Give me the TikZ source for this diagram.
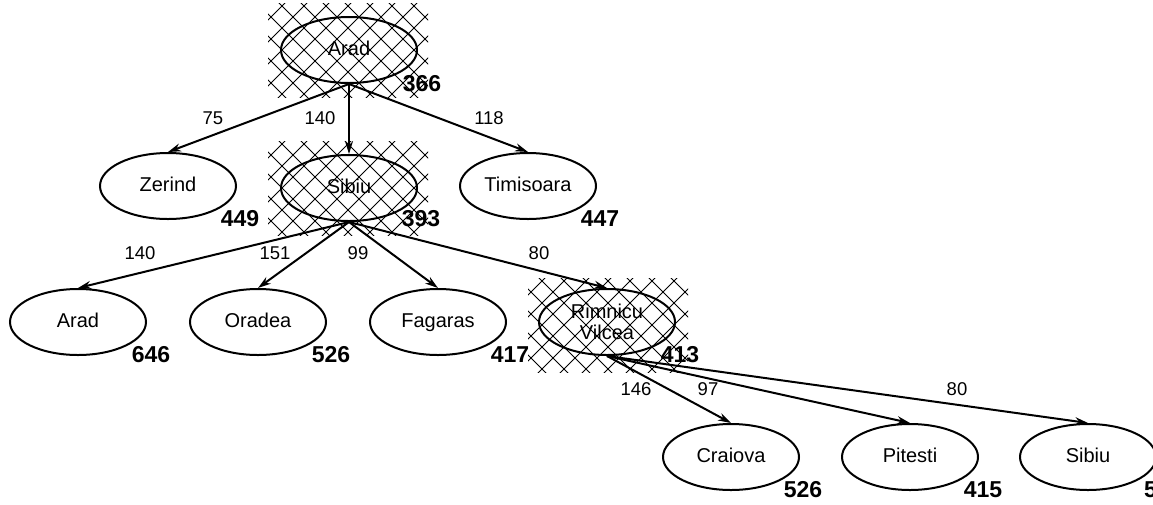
\documentclass[tikz,border=0pt]{standalone}
\usepackage{fontspec}
\setmainfont{Liberation Sans}
\usetikzlibrary{arrows.meta,shapes.geometric}
\begin{document}
\begin{tikzpicture}[x=1pt,y=-1pt,
  basestate/.style={ellipse,draw,line width=2pt,minimum width=136pt,minimum height=66pt,inner sep=0pt,align=center,font=\fontsize{20}{21}\selectfont},
  state/.style={basestate,text height=14.5pt,text depth=4pt},
  edge/.style={line width=2pt,-{Stealth[length=13pt,width=8pt]}},
  elabel/.style={font=\fontsize{18.5}{20}\selectfont,inner sep=0pt},
  score/.style={font=\bfseries\fontsize{23}{25}\selectfont,inner sep=0pt},
  hatchline/.style={line width=1pt,black}]
\useasboundingbox (0,0) rectangle (1153,504);
\clip (0,0) rectangle (1153,504);
% hatched backgrounds
\foreach \cx/\cy in {348/50, 348/188, 608/325}{
  \begin{scope}
    \clip (\cx-80,\cy-47) rectangle (\cx+80,\cy+47);
    \foreach \i in {-176,-154,...,176}{
      \draw[hatchline] (\cx+\i-60,\cy-60) -- (\cx+\i+60,\cy+60);
      \draw[hatchline] (\cx+\i+60,\cy-60) -- (\cx+\i-60,\cy+60);
    }
  \end{scope}
}
% nodes
\node[state] (arad0) at (349,50) {Arad};
\node[state] (zerind) at (168,186) {Zerind};
\node[state] (sibiu1) at (349,188) {Sibiu};
\node[state] (timisoara) at (528,186) {Timisoara};
\node[state] (arad2) at (78,322) {Arad};
\node[state] (oradea) at (258,322) {Oradea};
\node[state] (fagaras) at (438,322) {Fagaras};
\node[basestate] (rimnicu) at (607,322) {Rimnicu\\Vilcea};
\node[state] (craiova) at (731,457) {Craiova};
\node[state] (pitesti) at (910,457) {Pitesti};
\node[state] (sibiu3) at (1088,457) {Sibiu};
% edges
\draw[edge] (arad0.south) -- (zerind.north);
\draw[edge] (arad0.south) -- (sibiu1.north);
\draw[edge] (arad0.south) -- (timisoara.north);
\draw[edge] (sibiu1.south) -- (arad2.north);
\draw[edge] (sibiu1.south) -- (oradea.north);
\draw[edge] (sibiu1.south) -- (fagaras.north);
\draw[edge] (sibiu1.south) -- (rimnicu.north);
\draw[edge] (rimnicu.south) -- (craiova.north);
\draw[edge] (rimnicu.south) -- (pitesti.north);
\draw[edge] (rimnicu.south) -- (sibiu3.north);
% edge labels
\node[elabel] (l1) at (213,118) {75};
\node[elabel] (l2) at (320,118) {140};
\node[elabel] (l3) at (489,118) {118};
\node[elabel] (l4) at (140,253) {140};
\node[elabel] (l5) at (275,253) {151};
\node[elabel] (l6) at (358,253) {99};
\node[elabel] (l7) at (539,253) {80};
\node[elabel] (l8) at (636,389) {146};
\node[elabel] (l9) at (708,389) {97};
\node[elabel] (l10) at (957,389) {80};
% scores
\node[score] (s1) at (422,84) {366};
\node[score] (s2) at (240,219) {449};
\node[score] (s3) at (421,219) {393};
\node[score] (s4) at (600,219) {447};
\node[score] (s5) at (151,355) {646};
\node[score] (s6) at (331,355) {526};
\node[score] (s7) at (510,355) {417};
\node[score] (s8) at (680,355) {413};
\node[score] (s9) at (803,490) {526};
\node[score] (s10) at (983,490) {415};
\node[score,anchor=west] (s11) at (1144,490) {553};
\end{tikzpicture}
\end{document}
